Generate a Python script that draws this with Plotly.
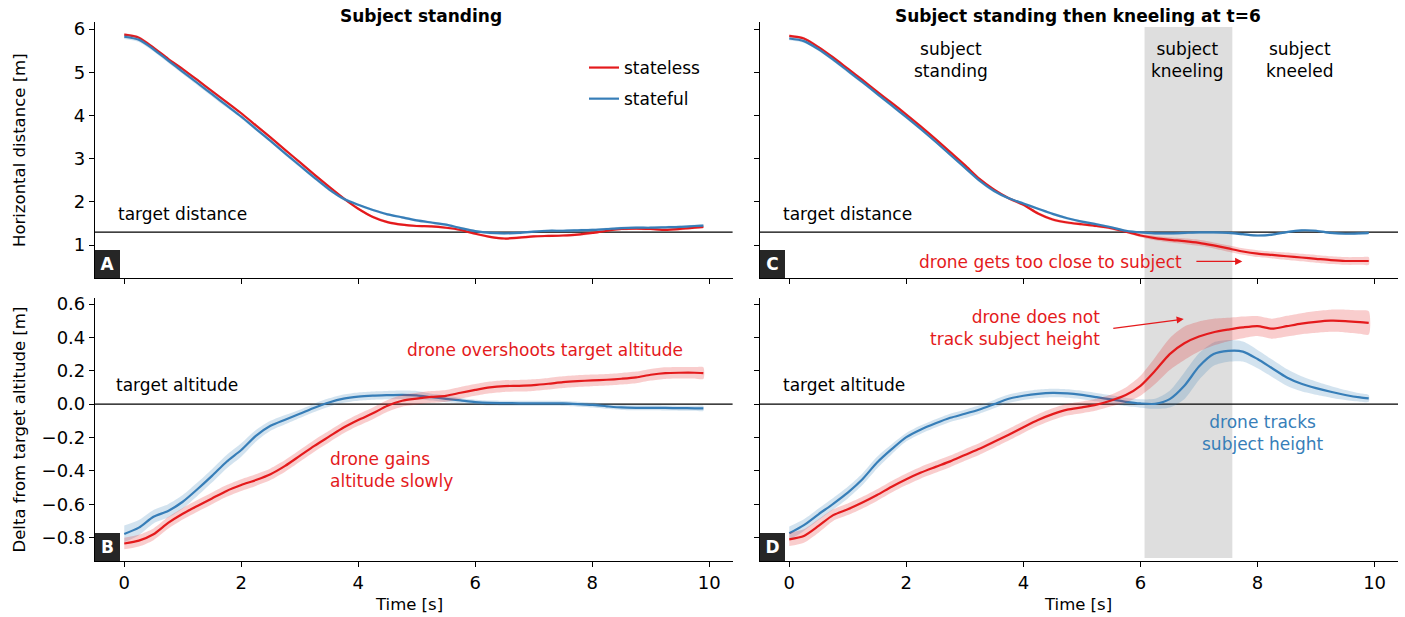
import plotly.graph_objects as go

# ---- data -------------------------------------------------------------
T = [0.0, 0.25, 0.5, 0.75, 1.0, 1.25, 1.5, 1.75, 2.0, 2.25, 2.5, 2.75, 3.0,
     3.25, 3.5, 3.75, 4.0, 4.25, 4.5, 4.75, 5.0, 5.25, 5.5, 5.75, 6.0, 6.25,
     6.5, 6.75, 7.0, 7.25, 7.5, 7.75, 8.0, 8.25, 8.5, 8.75, 9.0, 9.25, 9.5,
     9.75, 9.9]

# Panel A: horizontal distance, subject standing
dist_stand_stateless = [5.87, 5.80, 5.57, 5.31, 5.07, 4.82, 4.56, 4.31, 4.05, 3.77, 3.49,
                        3.20, 2.92, 2.63, 2.35, 2.08, 1.84, 1.65, 1.53, 1.47, 1.44, 1.43,
                        1.40, 1.35, 1.26, 1.19, 1.15, 1.17, 1.20, 1.21, 1.22, 1.24, 1.28,
                        1.33, 1.37, 1.38, 1.37, 1.35, 1.37, 1.40, 1.42]
dist_stand_stateless_sd = [0.03, 0.03, 0.03, 0.03, 0.03, 0.03, 0.03, 0.03, 0.03, 0.03, 0.03,
                           0.03, 0.03, 0.03, 0.03, 0.03, 0.03, 0.03, 0.03, 0.03, 0.03, 0.03,
                           0.03, 0.03, 0.03, 0.03, 0.03, 0.03, 0.03, 0.03, 0.03, 0.03, 0.03,
                           0.03, 0.03, 0.03, 0.03, 0.03, 0.03, 0.03, 0.03]
dist_stand_stateful = [5.82, 5.75, 5.53, 5.27, 5.01, 4.75, 4.49, 4.23, 3.97, 3.69, 3.41,
                       3.12, 2.84, 2.56, 2.29, 2.07, 1.93, 1.81, 1.71, 1.64, 1.57, 1.52,
                       1.47, 1.39, 1.32, 1.28, 1.27, 1.28, 1.31, 1.33, 1.33, 1.34, 1.35,
                       1.37, 1.39, 1.40, 1.40, 1.41, 1.42, 1.44, 1.45]
dist_stand_stateful_sd = [0.05, 0.05, 0.05, 0.05, 0.05, 0.05, 0.05, 0.05, 0.04, 0.04, 0.04,
                          0.04, 0.04, 0.04, 0.04, 0.04, 0.03, 0.03, 0.03, 0.03, 0.03, 0.03,
                          0.03, 0.03, 0.03, 0.03, 0.03, 0.03, 0.03, 0.03, 0.03, 0.03, 0.03,
                          0.03, 0.03, 0.03, 0.03, 0.03, 0.03, 0.03, 0.03]

# Panel B: altitude delta, subject standing
alt_stand_stateless = [-0.835, -0.818, -0.78, -0.712, -0.657, -0.61, -0.565, -0.52, -0.485,
                       -0.455, -0.42, -0.37, -0.31, -0.25, -0.195, -0.14, -0.095, -0.055,
                       -0.01, 0.02, 0.033, 0.043, 0.05, 0.068, 0.085, 0.10, 0.108, 0.11,
                       0.114, 0.122, 0.132, 0.138, 0.142, 0.146, 0.152, 0.16, 0.176, 0.186,
                       0.188, 0.188, 0.186]
alt_stand_stateless_sd = [0.035, 0.035, 0.035, 0.035, 0.035, 0.035, 0.035, 0.035, 0.035,
                          0.035, 0.035, 0.035, 0.035, 0.035, 0.035, 0.035, 0.035, 0.035,
                          0.035, 0.035, 0.035, 0.035, 0.035, 0.035, 0.035, 0.035, 0.035,
                          0.035, 0.035, 0.035, 0.035, 0.035, 0.035, 0.035, 0.035, 0.035,
                          0.035, 0.035, 0.035, 0.035, 0.035]
alt_stand_stateful = [-0.778, -0.74, -0.675, -0.64, -0.585, -0.51, -0.43, -0.345, -0.275,
                      -0.19, -0.13, -0.093, -0.058, -0.022, 0.01, 0.033, 0.045, 0.051,
                      0.054, 0.056, 0.053, 0.042, 0.032, 0.022, 0.012, 0.007, 0.006, 0.005,
                      0.005, 0.005, 0.004, 0.0, -0.005, -0.013, -0.02, -0.022, -0.022,
                      -0.023, -0.024, -0.025, -0.026]
alt_stand_stateful_sd = [0.05, 0.045, 0.04, 0.04, 0.04, 0.04, 0.04, 0.04, 0.04, 0.035, 0.03,
                         0.028, 0.025, 0.025, 0.025, 0.025, 0.025, 0.025, 0.025, 0.025, 0.025,
                         0.02, 0.02, 0.015, 0.015, 0.015, 0.015, 0.015, 0.015, 0.015, 0.015,
                         0.015, 0.015, 0.015, 0.015, 0.015, 0.015, 0.015, 0.015, 0.015, 0.015]

# Panel C: horizontal distance, subject kneels at t=6
dist_kneel_stateless = [5.84, 5.78, 5.58, 5.34, 5.08, 4.82, 4.55, 4.29, 4.02, 3.74, 3.45,
                        3.15, 2.85, 2.53, 2.28, 2.08, 1.93, 1.73, 1.59, 1.52, 1.48, 1.44,
                        1.39, 1.31, 1.22, 1.16, 1.12, 1.09, 1.05, 0.99, 0.92, 0.85, 0.80,
                        0.77, 0.74, 0.71, 0.68, 0.65, 0.63, 0.63, 0.63]
dist_kneel_stateless_sd = [0.035, 0.035, 0.035, 0.035, 0.035, 0.035, 0.035, 0.035, 0.035,
                           0.035, 0.035, 0.035, 0.035, 0.035, 0.035, 0.035, 0.035, 0.035,
                           0.035, 0.035, 0.035, 0.035, 0.035, 0.035, 0.04, 0.05, 0.06, 0.065,
                           0.07, 0.07, 0.075, 0.075, 0.08, 0.08, 0.085, 0.085, 0.09, 0.09,
                           0.09, 0.09, 0.09]
dist_kneel_stateful = [5.78, 5.72, 5.53, 5.29, 5.03, 4.77, 4.50, 4.23, 3.96, 3.68, 3.39,
                       3.09, 2.79, 2.49, 2.25, 2.08, 1.96, 1.84, 1.72, 1.62, 1.54, 1.48,
                       1.41, 1.33, 1.29, 1.27, 1.27, 1.28, 1.29, 1.29, 1.28, 1.25, 1.22,
                       1.24, 1.30, 1.34, 1.33, 1.28, 1.26, 1.27, 1.28]
dist_kneel_stateful_sd = [0.04, 0.04, 0.04, 0.04, 0.04, 0.04, 0.04, 0.04, 0.035, 0.035,
                          0.035, 0.035, 0.035, 0.035, 0.035, 0.03, 0.03, 0.03, 0.03, 0.03,
                          0.03, 0.03, 0.03, 0.03, 0.03, 0.03, 0.03, 0.03, 0.03, 0.03, 0.03,
                          0.03, 0.03, 0.03, 0.03, 0.03, 0.03, 0.03, 0.03, 0.03, 0.03]

# Panel D: altitude delta, subject kneels at t=6
alt_kneel_stateless = [-0.81, -0.79, -0.73, -0.665, -0.63, -0.59, -0.545, -0.495, -0.45,
                       -0.41, -0.376, -0.343, -0.305, -0.268, -0.226, -0.183, -0.138,
                       -0.095, -0.06, -0.033, -0.019, -0.003, 0.022, 0.055, 0.11, 0.2, 0.3,
                       0.365, 0.405, 0.431, 0.447, 0.46, 0.468, 0.452, 0.467, 0.482, 0.493,
                       0.5, 0.498, 0.492, 0.487]
alt_kneel_stateless_sd = [0.04, 0.04, 0.04, 0.035, 0.035, 0.035, 0.035, 0.035, 0.035, 0.035,
                          0.035, 0.035, 0.035, 0.035, 0.035, 0.035, 0.035, 0.035, 0.035,
                          0.035, 0.035, 0.035, 0.035, 0.045, 0.06, 0.08, 0.095, 0.1, 0.09,
                          0.08, 0.07, 0.065, 0.06, 0.06, 0.062, 0.063, 0.065, 0.066, 0.068,
                          0.07, 0.07]
alt_kneel_stateful = [-0.774, -0.725, -0.66, -0.597, -0.53, -0.45, -0.35, -0.27, -0.198,
                      -0.152, -0.115, -0.082, -0.058, -0.032, 0.0, 0.032, 0.05, 0.062,
                      0.067, 0.064, 0.055, 0.042, 0.028, 0.014, 0.004, 0.002, 0.03, 0.11,
                      0.225, 0.3, 0.319, 0.315, 0.27, 0.215, 0.16, 0.122, 0.096, 0.074,
                      0.055, 0.04, 0.034]
alt_kneel_stateful_sd = [0.04, 0.035, 0.035, 0.035, 0.035, 0.035, 0.035, 0.03, 0.025, 0.025,
                         0.025, 0.025, 0.025, 0.025, 0.025, 0.025, 0.025, 0.025, 0.025,
                         0.025, 0.025, 0.025, 0.025, 0.025, 0.025, 0.03, 0.05, 0.08, 0.08,
                         0.07, 0.065, 0.06, 0.055, 0.052, 0.05, 0.045, 0.04, 0.035, 0.03,
                         0.025, 0.02]

TARGET_DISTANCE = 1.3
TARGET_ALTITUDE = 0.0
KNEEL_START, KNEEL_END = 6.07, 7.57

# ---- styling ------------------------------------------------------------
RED = "#e41a1c"
BLUE = "#377eb8"
RED_FILL = "rgba(228,26,28,0.22)"
BLUE_FILL = "rgba(55,126,184,0.22)"
FONT = "DejaVu Sans"

W, H = 1405, 617
ML, MR, MT, MB = 95, 7, 22, 56
PW = W - ML - MR
PH = H - MT - MB

fig = go.Figure()


def add_series(xa, ya, mean, sd, color, fill, name=None, legend=False):
    upper = [m + s for m, s in zip(mean, sd)]
    lower = [m - s for m, s in zip(mean, sd)]
    fig.add_trace(go.Scatter(
        x=T + T[::-1], y=upper + lower[::-1], xaxis=xa, yaxis=ya,
        fill="toself", fillcolor=fill, mode="lines",
        line=dict(width=0, shape="spline", smoothing=0.7),
        hoverinfo="skip", showlegend=False))
    fig.add_trace(go.Scatter(
        x=T, y=mean, xaxis=xa, yaxis=ya, mode="lines",
        line=dict(color=color, width=2.2, shape="spline", smoothing=0.7), name=name,
        showlegend=legend, legendgroup=name))


add_series("x", "y", dist_stand_stateless, dist_stand_stateless_sd, RED, RED_FILL, "stateless", True)
add_series("x", "y", dist_stand_stateful, dist_stand_stateful_sd, BLUE, BLUE_FILL, "stateful", True)
add_series("x3", "y3", alt_stand_stateful, alt_stand_stateful_sd, BLUE, BLUE_FILL)
add_series("x3", "y3", alt_stand_stateless, alt_stand_stateless_sd, RED, RED_FILL)
add_series("x2", "y2", dist_kneel_stateless, dist_kneel_stateless_sd, RED, RED_FILL)
add_series("x2", "y2", dist_kneel_stateful, dist_kneel_stateful_sd, BLUE, BLUE_FILL)
add_series("x4", "y4", alt_kneel_stateful, alt_kneel_stateful_sd, BLUE, BLUE_FILL)
add_series("x4", "y4", alt_kneel_stateless, alt_kneel_stateless_sd, RED, RED_FILL)

# ---- axes -------------------------------------------------------------
left_dom = [0.0, 637.6 / PW]
right_dom = [(760 - ML) / PW, 1.0]
top_dom = [(H - MB - 278) / PH, 1.0]
bot_dom = [0.0, (H - MB - 298) / PH]

common = dict(showline=True, linecolor="black", linewidth=1.2, ticks="outside",
              ticklen=5, tickwidth=1.2, tickcolor="black", showgrid=False,
              zeroline=False, mirror=False,
              tickfont=dict(family=FONT, size=18, color="black"))
xcommon = dict(common, range=[-0.5, 10.4], tickvals=[0, 2, 4, 6, 8, 10])

fig.update_layout(
    xaxis=dict(xcommon, domain=left_dom, anchor="y", showticklabels=False),
    xaxis2=dict(xcommon, domain=right_dom, anchor="y2", showticklabels=False),
    xaxis3=dict(xcommon, domain=left_dom, anchor="y3"),
    xaxis4=dict(xcommon, domain=right_dom, anchor="y4"),
    yaxis=dict(common, domain=top_dom, anchor="x", range=[0.236, 6.162],
               tickvals=[1, 2, 3, 4, 5, 6]),
    yaxis2=dict(common, domain=top_dom, anchor="x2", range=[0.236, 6.162],
                tickvals=[1, 2, 3, 4, 5, 6], showticklabels=False),
    yaxis3=dict(common, domain=bot_dom, anchor="x3", range=[-0.94, 0.636],
                tickvals=[-0.8, -0.6, -0.4, -0.2, 0.0, 0.2, 0.4, 0.6], tickformat=".1f"),
    yaxis4=dict(common, domain=bot_dom, anchor="x4", range=[-0.94, 0.636],
                tickvals=[-0.8, -0.6, -0.4, -0.2, 0.0, 0.2, 0.4, 0.6], showticklabels=False),
)

# ---- shapes: kneeling interval and target reference lines ----------------
shapes = [dict(type="rect", xref="x2", yref="paper", x0=KNEEL_START, x1=KNEEL_END,
               y0=(H - MB - 558) / PH, y1=(H - MB - 27) / PH,
               fillcolor="#dedede", line=dict(width=0), layer="below")]
for xa, ya, val in (("x", "y", TARGET_DISTANCE), ("x2", "y2", TARGET_DISTANCE),
                    ("x3", "y3", TARGET_ALTITUDE), ("x4", "y4", TARGET_ALTITUDE)):
    shapes.append(dict(type="line", xref=f"{xa} domain", yref=ya, x0=0, x1=1,
                       y0=val, y1=val, line=dict(color="black", width=1.3),
                       layer="below"))
fig.update_layout(shapes=shapes)

# ---- text ---------------------------------------------------------------
ann = []


def text(xa, ya, x, y, s, color="black", xanchor="left", align="left", size=17):
    ann.append(dict(xref=xa, yref=ya, x=x, y=y, text=s, showarrow=False,
                    xanchor=xanchor, yanchor="middle", align=align,
                    font=dict(family=FONT, size=size, color=color)))


def arrow(xa, ya, x0, y0, x1, y1, color):
    ann.append(dict(xref=xa, yref=ya, axref=xa, ayref=ya, x=x1, y=y1, ax=x0, ay=y0,
                    text="", showarrow=True, arrowhead=2, arrowsize=1.1,
                    arrowwidth=1.3, arrowcolor=color))


# panel titles
ann.append(dict(xref="paper", yref="paper", x=(421 - ML) / PW, y=(H - MB - 16) / PH,
                text="<b>Subject standing</b>", showarrow=False, xanchor="center",
                yanchor="middle", font=dict(family=FONT, size=17, color="black")))
ann.append(dict(xref="paper", yref="paper", x=(1078 - ML) / PW, y=(H - MB - 16) / PH,
                text="<b>Subject standing then kneeling at t=6</b>", showarrow=False,
                xanchor="center", yanchor="middle",
                font=dict(family=FONT, size=17, color="black")))

# axis titles
for ya, s in (("y domain", "Horizontal distance [m]"),
              ("y3 domain", "Delta from target altitude [m]")):
    ann.append(dict(xref="paper", yref=ya, x=(19 - ML) / PW, y=0.5, text=s,
                    textangle=-90, showarrow=False, xanchor="center", yanchor="middle",
                    font=dict(family=FONT, size=16.5, color="black")))
for xc in (409, 1078):
    ann.append(dict(xref="paper", yref="paper", x=(xc - ML) / PW, y=(H - MB - 604) / PH,
                    text="Time [s]", showarrow=False, xanchor="center", yanchor="middle",
                    font=dict(family=FONT, size=16.5, color="black")))

# panel A / B
text("x", "y", -0.14, 1.72, "target distance")
text("x3", "y3", -0.17, 0.114, "target altitude")
text("x3", "y3", 4.80, 0.323, "drone overshoots target altitude", RED)
text("x3", "y3", 3.49, -0.395, "drone gains<br>altitude slowly", RED)

# panel C / D
text("x2", "y2", -0.14, 1.72, "target distance")
text("x2", "y2", 2.76, 5.28, "subject<br>standing", xanchor="center", align="center")
text("x2", "y2", 6.80, 5.28, "subject<br>kneeling", xanchor="center", align="center")
text("x2", "y2", 8.72, 5.28, "subject<br>kneeled", xanchor="center", align="center")
text("x2", "y2", 4.47, 0.61, "drone gets too close to subject", RED, xanchor="center")
arrow("x2", "y2", 6.93, 0.62, 7.74, 0.62, RED)
text("x4", "y4", -0.14, 0.114, "target altitude")
text("x4", "y4", 5.34, 0.455, "drone does not<br>track subject height", RED,
     xanchor="right", align="right")
arrow("x4", "y4", 5.51, 0.453, 6.74, 0.51, RED)
text("x4", "y4", 8.10, -0.172, "drone tracks<br>subject height", BLUE,
     xanchor="center", align="center")

# panel letters
for xa, ya, letter in (("x", "y", "A"), ("x2", "y2", "C"), ("x3", "y3", "B"), ("x4", "y4", "D")):
    ann.append(dict(xref=f"{xa} domain", yref=f"{ya} domain", x=0, y=0,
                    xanchor="left", yanchor="bottom", text=f"<b>{letter}</b>",
                    showarrow=False, bgcolor="#262626", width=25, height=28,
                    borderpad=0, borderwidth=0,
                    font=dict(family=FONT, size=17, color="white")))

fig.update_layout(
    annotations=ann,
    width=W, height=H,
    margin=dict(l=ML, r=MR, t=MT, b=MB),
    paper_bgcolor="white", plot_bgcolor="rgba(0,0,0,0)",
    font=dict(family=FONT, size=17, color="black"),
    showlegend=True,
    legend=dict(x=(584 - ML) / PW, y=(H - MB - 50) / PH, xanchor="left", yanchor="top",
                bgcolor="rgba(0,0,0,0)", borderwidth=0, tracegroupgap=6,
                font=dict(family=FONT, size=17, color="black")),
)

fig.write_html("out.html")
